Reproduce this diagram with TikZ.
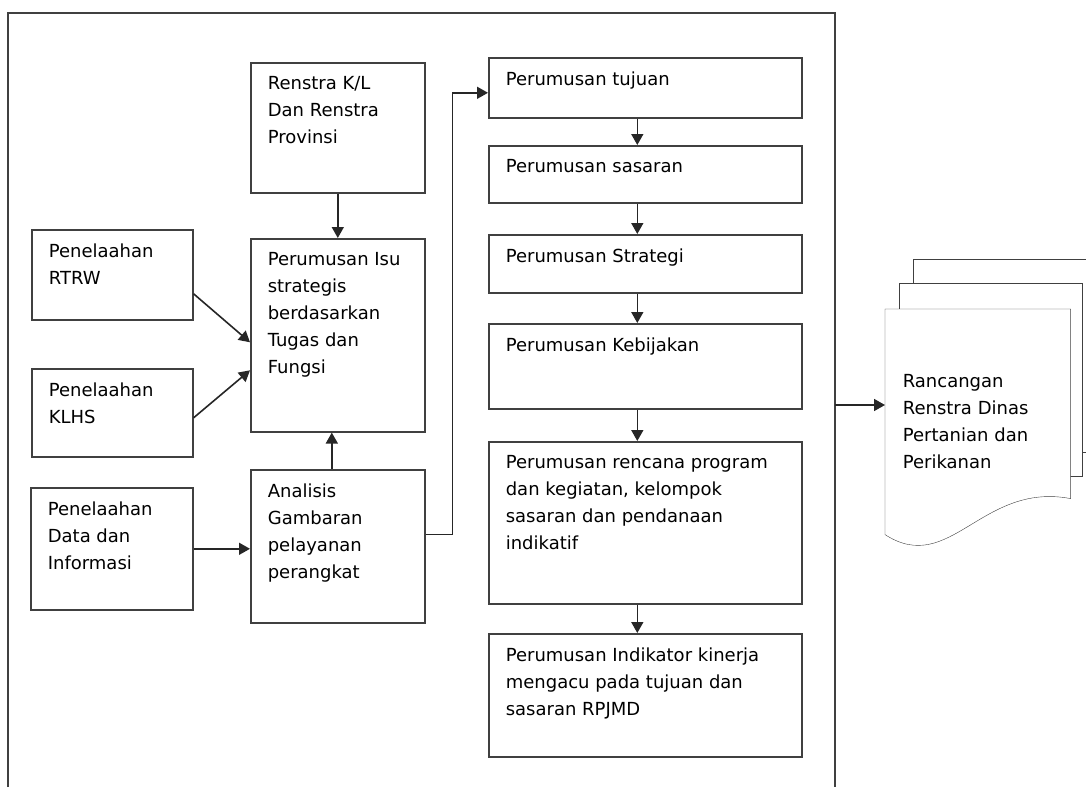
\documentclass[tikz,border=0pt]{standalone}
\usepackage{fontspec}
\setmainfont{DejaVu Sans}
\usetikzlibrary{arrows.meta,backgrounds}

\begin{document}
\begin{tikzpicture}[x=1pt,y=-1pt,line width=1.6pt,
  font=\fontsize{18}{27}\selectfont,
  box/.style n args={2}{draw=black!75,fill=white,anchor=north west,inner xsep=17pt,inner ysep=14pt,
    execute at begin node={\begin{minipage}[t][\dimexpr#2pt-28pt\relax][t]{\dimexpr#1pt-34pt\relax}\raggedright},
    execute at end node={\end{minipage}}},
  arr/.style={draw=black!85,-{Triangle[length=11pt,width=12pt]}},
  page/.style={draw=black!75,fill=white},
  doctext/.style={anchor=north west,minimum width=184pt,minimum height=224pt,text width=150pt,align=left}]
\useasboundingbox (0,0) rectangle (1086,787);
% outer frame
\draw[black!75] (8,787) -- (8,13) -- (835,13) -- (835,787);
\coordinate (frameE) at (835,405);

% left part
\node[box={174}{130}] (renstra) at (250,62) {Renstra K/L\\Dan Renstra\\Provinsi};
\node[box={174}{193}] (isu) at (250,238) {Perumusan Isu\\strategis\\berdasarkan\\Tugas dan\\Fungsi};
\node[box={161}{90}] (rtrw) at (31,229) {Penelaahan\\RTRW};
\node[box={161}{88}] (klhs) at (31,368) {Penelaahan\\KLHS};
\node[box={162}{122}] (data) at (30,487) {Penelaahan\\Data dan\\Informasi};
\node[box={174}{153}] (analisis) at (250,469) {Analisis\\Gambaran\\pelayanan\\perangkat};

% right column
\node[box={313}{60}] (tujuan) at (488,57) {Perumusan tujuan};
\node[box={313}{57}] (sasaran) at (488,145) {Perumusan sasaran};
\node[box={313}{58}] (strategi) at (488,234) {Perumusan Strategi};
\node[box={313}{85}] (kebijakan) at (488,323) {Perumusan Kebijakan};
\node[box={313}{162}] (rencana) at (488,441) {Perumusan rencana program\\dan kegiatan, kelompok\\sasaran dan pendanaan\\indikatif};
\node[box={313}{123}] (indikator) at (488,633) {Perumusan Indikator kinerja\\mengacu pada tujuan dan\\sasaran RPJMD};

% output document
\node[doctext] (doc) at (885,309) {Rancangan\\Renstra Dinas\\Pertanian dan\\Perikanan};
\begin{scope}[on background layer]
\draw[page] (913,259) rectangle (1100,452);
\draw[page] (899,283) rectangle (1082,476);
\draw[page] (doc.north west) -- (doc.north east) -- ([yshift=36pt]doc.south east)
  .. controls +(-89,-17) and +(65,42) .. (doc.south west) -- cycle;
\end{scope}

% connectors
\draw[arr] (renstra) -- (isu);
\draw[arr] ([yshift=-19pt]rtrw.east) -- ([yshift=-7pt]isu.west);
\draw[arr] ([yshift=-5pt]klhs.east) -- ([yshift=-35pt]isu.west);
\draw[arr] (data.east) -- (data.east -| analisis.west);
\draw[arr] ([xshift=-6pt]analisis.north) -- ([xshift=-6pt]isu.south);
\draw[arr] ([yshift=12pt]analisis.east) -- ++(27,0) |- ([yshift=-5pt]tujuan.west);
\foreach \a/\b in {tujuan/sasaran,sasaran/strategi,strategi/kebijakan,kebijakan/rencana,rencana/indikator}
  \draw[arr] ([xshift=-8pt]\a.south) -- ([xshift=-8pt]\b.north);
\draw[arr] (frameE) -- (frameE -| doc.west);
\end{tikzpicture}
\end{document}
